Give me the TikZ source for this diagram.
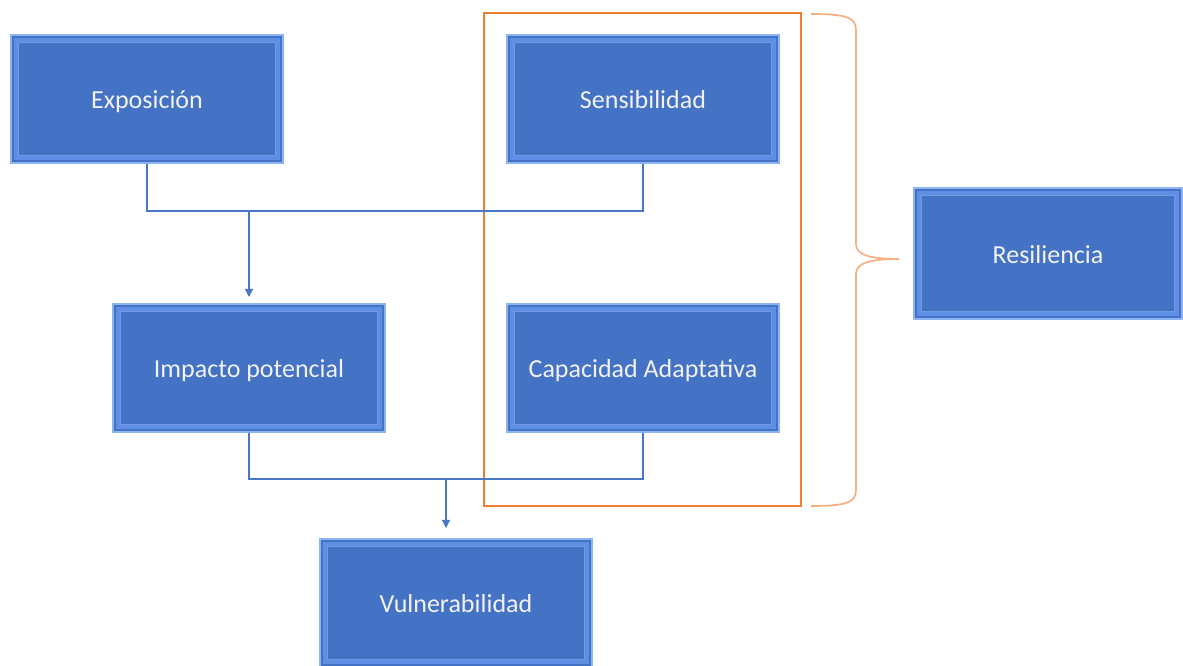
\documentclass[tikz,border=0pt]{standalone}
\usepackage{fontspec}
\setmainfont{Carlito}
\usetikzlibrary{arrows.meta}
\definecolor{boxblue}{HTML}{4472C4}
\definecolor{rimblue}{HTML}{8DB3F2}
\definecolor{bevelblue}{HTML}{5F8FE4}
\definecolor{linkblue}{HTML}{4A76C6}
\definecolor{frameorange}{HTML}{ED7D31}
\definecolor{braceorange}{HTML}{F4B183}
\begin{document}
\begin{tikzpicture}[x=0.75pt,y=-0.75pt,
  block/.style={rectangle, fill=boxblue, draw=rimblue, line width=1.5pt,
    minimum width=204pt, minimum height=96pt, inner sep=0pt,
    text height=15pt, text depth=0pt,
    text=white!95!black, font=\fontsize{19.5}{23}\selectfont,
    path picture={
      \draw[bevelblue, line width=3pt]
        ([shift={(3.5pt,-3.5pt)}]path picture bounding box.north west) rectangle
        ([shift={(-3.5pt,3.5pt)}]path picture bounding box.south east);
      \draw[rimblue!60!boxblue, line width=1pt]
        ([shift={(5.5pt,-5.5pt)}]path picture bounding box.north west) rectangle
        ([shift={(-5.5pt,5.5pt)}]path picture bounding box.south east);
    }},
  link/.style={draw=linkblue, line width=0.9pt},
  arrowlink/.style={link, -{Triangle[width=6pt,length=6pt]}},
  group/.style={rectangle, draw=frameorange, line width=0.9pt, inner sep=0pt},
  bracket/.style={draw=braceorange, line width=1.3pt}
]
\useasboundingbox (0,0) rectangle (1183,666);

% blocks
\node[block] (expo) at (147,99) {Exposición};
\node[block] (sens) at (643,99) {Sensibilidad};
\node[block] (imp)  at (249,368) {Impacto potencial};
\node[block] (cap)  at (643,368) {Capacidad Adaptativa};
\node[block] (vul)  at (456,603) {Vulnerabilidad};
\node[block, minimum width=201pt, minimum height=98.25pt] (res) at (1048,253.5) {Resiliencia};

% group of sensitivity and adaptive capacity
\node[group, minimum width=237.75pt, minimum height=369.75pt] (grp) at (642.5,259.5) {};

% junctions
\coordinate (j1) at (249,211);
\coordinate (j2) at (446,479);

\draw[link] (expo.south) |- (j1) -| (sens.south);
\draw[arrowlink, shorten >=4.5pt] (j1) -- (imp.north);
\draw[link] (imp.south) |- (j2) -| (cap.south);
\draw[arrowlink, shorten >=7.5pt] (j2) -- (j2 |- vul.north);

% brace towards resilience
\coordinate (tip) at (899,259);
\draw[bracket] (811,14) .. controls (845,14) and (856,17) .. (856,30)
  -- (856,244) .. controls (856,255) and (870,259) .. (tip)
  .. controls (870,259) and (856,263) .. (856,274)
  -- (856,490) .. controls (856,503) and (845,506) .. (811,506);
\end{tikzpicture}
\end{document}
